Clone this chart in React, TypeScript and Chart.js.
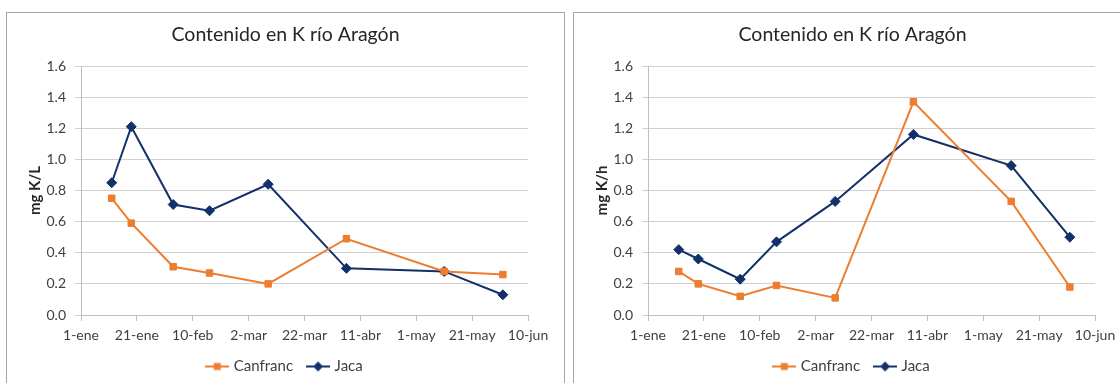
import React, { useEffect, useRef } from 'react';
import { Chart, registerables } from 'chart.js';

Chart.register(...registerables);

// ---- data ----
const chartTitle = 'Contenido en K río Aragón';
const seriesNames = ['Canfranc', 'Jaca'];
const xTickLabels = ['1-ene', '21-ene', '10-feb', '2-mar', '22-mar', '11-abr', '1-may', '21-may', '10-jun'];
const xStepDays = 20;
// sampling dates, as days after 1-ene
const sampleDays = [11, 18, 33, 46, 67, 95, 130, 151];
// left chart: mg K/L
const concCanfranc = [0.75, 0.59, 0.31, 0.27, 0.2, 0.49, 0.28, 0.26];
const concJaca = [0.85, 1.21, 0.71, 0.67, 0.84, 0.3, 0.28, 0.13];
// right chart: mg K/h
const loadCanfranc = [0.28, 0.2, 0.12, 0.19, 0.11, 1.37, 0.73, 0.18];
const loadJaca = [0.42, 0.36, 0.23, 0.47, 0.73, 1.16, 0.96, 0.5];
const yMin = 0;
const yMax = 1.6;
const yStep = 0.2;
const yTitles = ['mg K/L', 'mg K/h'];

// ---- styles ----
const ORANGE = '#ED7D31';
const NAVY = '#13306A';
const FONT = 'Lato';
const TEXT = '#404040';
const CANVAS_W = 557;
const CANVAS_H = 371;

function legendIcon(color: string, kind: 'rect' | 'diamond') {
  const c = document.createElement('canvas');
  c.width = 24;
  c.height = 12;
  const g = c.getContext('2d')!;
  g.strokeStyle = color;
  g.lineWidth = 2;
  g.beginPath();
  g.moveTo(0, 6);
  g.lineTo(24, 6);
  g.stroke();
  g.fillStyle = color;
  if (kind === 'rect') {
    g.fillRect(8.5, 2.5, 7, 7);
  } else {
    g.beginPath();
    g.moveTo(12, 1);
    g.lineTo(17, 6);
    g.lineTo(12, 11);
    g.lineTo(7, 6);
    g.closePath();
    g.fill();
  }
  return c;
}

function toPoints(values: number[]) {
  return values.map((v, i) => ({ x: sampleDays[i], y: v }));
}

function KChart({ yTitle, canfranc, jaca }: { yTitle: string; canfranc: number[]; jaca: number[] }) {
  const ref = useRef<HTMLCanvasElement>(null);
  useEffect(() => {
    const icons = [legendIcon(ORANGE, 'rect'), legendIcon(NAVY, 'diamond')];
    const chart = new Chart(ref.current!, {
      type: 'line',
      data: {
        datasets: [
          {
            label: seriesNames[0],
            data: toPoints(canfranc),
            borderColor: ORANGE,
            backgroundColor: ORANGE,
            borderWidth: 2,
            pointStyle: 'rect',
            pointRadius: 4.6,
            pointBorderWidth: 1,
            tension: 0,
          },
          {
            label: seriesNames[1],
            data: toPoints(jaca),
            borderColor: NAVY,
            backgroundColor: NAVY,
            borderWidth: 2,
            pointStyle: 'rectRot',
            pointRadius: 5,
            pointBorderWidth: 1,
            tension: 0,
          },
        ],
      },
      options: {
        animation: false,
        responsive: false,
        events: [],
        layout: { padding: 0 },
        scales: {
          x: {
            type: 'linear',
            min: 0,
            max: (xTickLabels.length - 1) * xStepDays,
            ticks: {
              stepSize: xStepDays,
              autoSkip: false,
              maxRotation: 0,
              padding: 6,
              color: TEXT,
              font: { family: FONT, size: 14 },
              callback: (v: any) => xTickLabels[Math.round(Number(v) / xStepDays)] ?? '',
            },
            grid: { drawOnChartArea: false, drawTicks: true, tickLength: 6, color: '#BFBFBF' },
            border: { color: '#BFBFBF' },
            afterFit: (s: any) => {
              s.height = 28;
            },
          },
          y: {
            type: 'linear',
            min: yMin,
            max: yMax,
            ticks: {
              stepSize: yStep,
              padding: 9,
              color: TEXT,
              font: { family: FONT, size: 14 },
              callback: (v: any) => Number(v).toFixed(1),
            },
            grid: { color: '#D0D0D0', drawTicks: true, tickLength: 6 },
            border: { color: '#BFBFBF' },
            title: {
              display: true,
              text: yTitle,
              color: '#262626',
              font: { family: FONT, size: 15, weight: 'bold' },
              padding: { top: 19, bottom: 0 },
            },
            afterFit: (s: any) => {
              s.width = 74;
            },
          },
          pad: {
            type: 'linear',
            position: 'right',
            display: true,
            ticks: { display: false },
            grid: { display: false },
            border: { display: false },
            afterFit: (s: any) => {
              s.width = 36;
            },
          },
        },
        plugins: {
          tooltip: { enabled: false },
          title: {
            display: true,
            text: chartTitle,
            color: '#262626',
            font: { family: FONT, size: 19.5, weight: 'normal' },
            padding: { top: 10.3, bottom: 19.3 },
          },
          legend: {
            display: true,
            position: 'bottom',
            labels: {
              usePointStyle: true,
              pointStyleWidth: 18,
              padding: 16,
              color: TEXT,
              font: { family: FONT, size: 15 },
              generateLabels: (c: any) => {
                const items = (Chart as any).defaults.plugins.legend.labels.generateLabels(c);
                items.forEach((it: any, i: number) => {
                  it.pointStyle = icons[i];
                });
                return items;
              },
            },
          },
        },
      },
    } as any);
    return () => chart.destroy();
  }, []);
  return (
    <canvas
      ref={ref}
      width={CANVAS_W}
      height={CANVAS_H}
      style={{ display: 'block', width: CANVAS_W, height: CANVAS_H }}
    />
  );
}

export default function App() {
  const box = (left: number): React.CSSProperties => ({
    position: 'absolute',
    left,
    top: 12,
    width: CANVAS_W,
    height: CANVAS_H,
    border: '1px solid #A6A6A6',
    background: '#fff',
  });
  return (
    <div
      style={{
        position: 'fixed',
        left: 0,
        top: 0,
        width: 1120,
        height: 383,
        overflow: 'hidden',
        background: '#fff',
      }}
    >
      <div style={box(6)}>
        <KChart yTitle={yTitles[0]} canfranc={concCanfranc} jaca={concJaca} />
      </div>
      <div style={box(573)}>
        <KChart yTitle={yTitles[1]} canfranc={loadCanfranc} jaca={loadJaca} />
      </div>
    </div>
  );
}
